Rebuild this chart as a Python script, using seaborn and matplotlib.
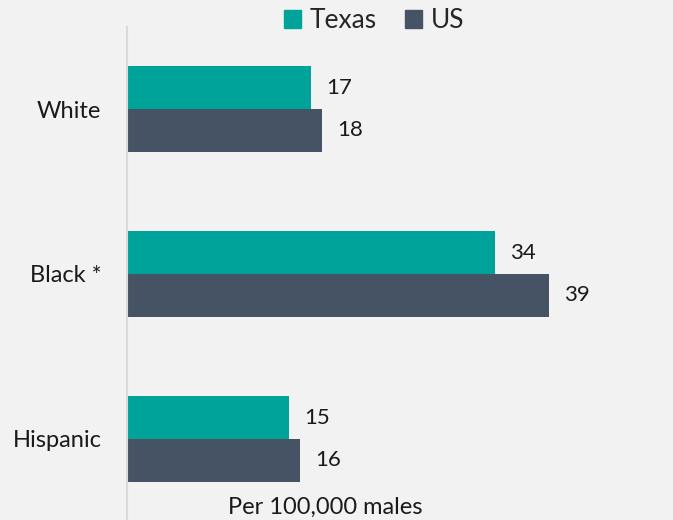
import matplotlib
matplotlib.use("Agg")
import matplotlib.pyplot as plt
import seaborn as sns
import pandas as pd
from matplotlib.patches import Patch

# Data
groups = ["White", "Black *", "Hispanic"]
texas = [17, 34, 15]
us = [18, 39, 16]
series = ["Texas", "US"]
colors = {"Texas": "#00a39a", "US": "#465364"}
bg = "#f2f2f2"

df = pd.DataFrame({
    "group": groups * 2,
    "rate": texas + us,
    "region": ["Texas"] * 3 + ["US"] * 3,
})

sns.set_style("white")
plt.rcParams["font.family"] = ["Lato", "DejaVu Sans"]

fig = plt.figure(figsize=(6.73, 5.2), dpi=100, facecolor=bg)
ax = fig.add_axes([127 / 673, 0, 1 - 127 / 673, (520 - 27) / 520])
ax.set_facecolor(bg)

sns.barplot(data=df, y="group", x="rate", hue="region", order=groups,
            hue_order=series, palette=colors, width=0.52, orient="h",
            ax=ax, legend=False, saturation=1, linewidth=0)

for c in ax.containers:
    ax.bar_label(c, padding=11, fontsize=16, color="#1a1a1a")

ax.set_xlim(0, 50.5)
ax.set_ylim(2.491, -0.497)

for s in ["top", "right", "bottom"]:
    ax.spines[s].set_visible(False)
ax.spines["left"].set_color("#d9d9d9")
ax.spines["left"].set_linewidth(1.5)

ax.set_xticks([])
ax.tick_params(axis="y", length=0, pad=18.5, labelsize=17, labelcolor="#1a1a1a")
ax.set_ylabel("")
ax.set_xlabel("")
fig.text(325 / 673, 1 - 507 / 520, "Per 100,000 males", ha="center", va="center",
         fontsize=17, color="#1a1a1a")

handles = [Patch(color=colors[s], label=s) for s in series]
fig.legend(handles=handles, loc="center", bbox_to_anchor=(374 / 673, 1 - 21 / 520),
           ncol=2, frameon=False, fontsize=19, handlelength=0.65, handleheight=0.65,
           handletextpad=0.3, columnspacing=1.1, borderpad=0)

fig.savefig("out.png", dpi=100, facecolor=bg)
